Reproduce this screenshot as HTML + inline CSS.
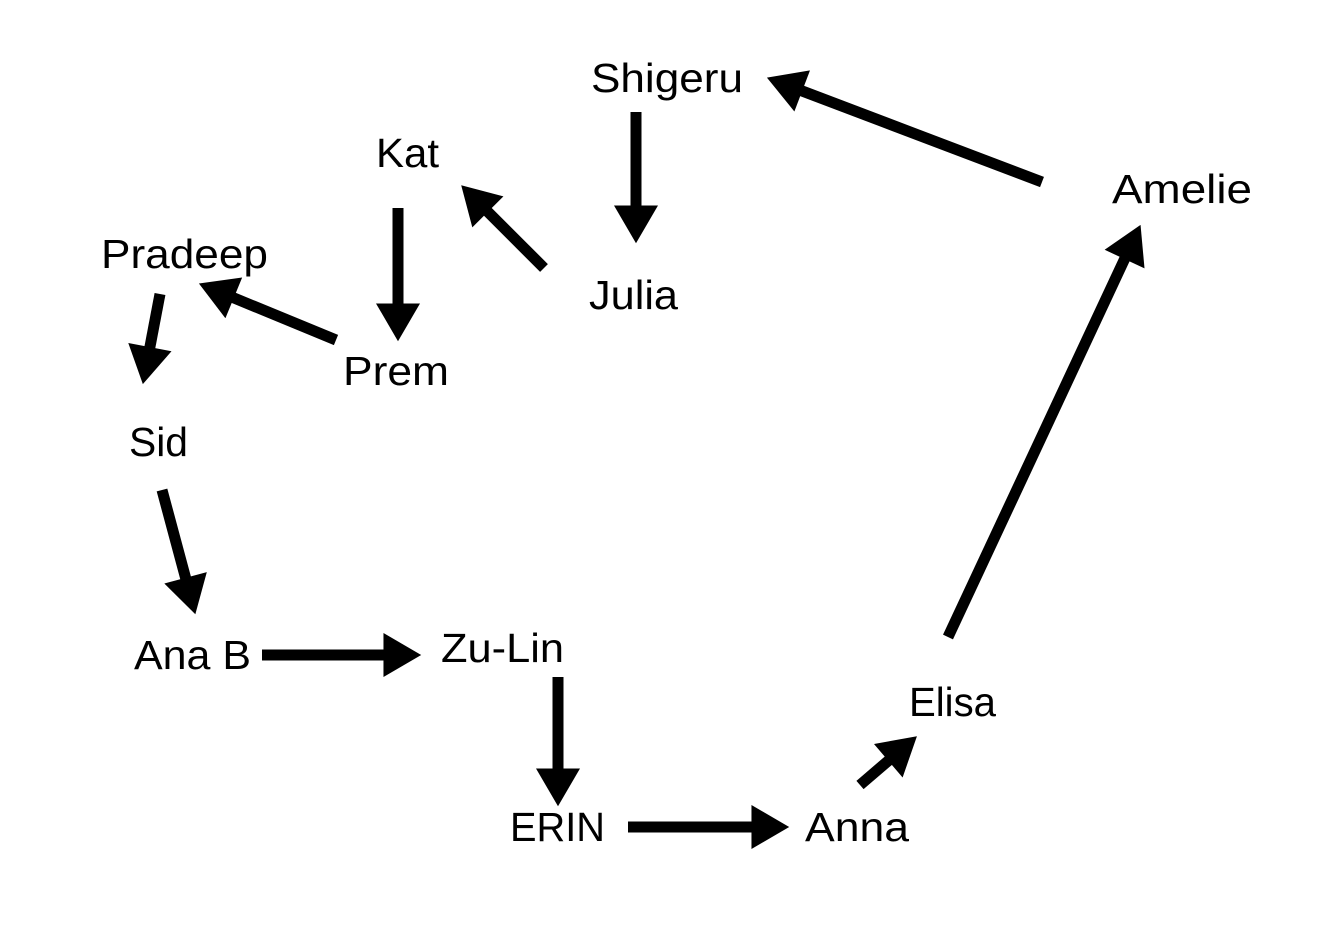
<!DOCTYPE html>
<html><head><meta charset="utf-8"><style>html,body{margin:0;padding:0;background:#fff}svg{display:block}</style></head>
<body>
<svg width="1318" height="932" viewBox="0 0 1318 932" xmlns="http://www.w3.org/2000/svg">
<defs>
<marker id="a" markerUnits="userSpaceOnUse" markerWidth="40" markerHeight="44" viewBox="0 0 36 42" refX="0.5" refY="21" orient="auto">
<path d="M0,0 L36,21 L0,42 Z" fill="#000"/>
</marker>
</defs>
<g stroke="#000" stroke-width="11" marker-end="url(#a)" fill="none">
<line x1="1042" y1="182" x2="801.7" y2="90.8"/>
<line x1="636" y1="112" x2="636" y2="206"/>
<line x1="544" y1="268" x2="487.5" y2="211.5"/>
<line x1="398" y1="208" x2="398" y2="304"/>
<line x1="336" y1="340" x2="233.3" y2="297.7"/>
<line x1="160" y1="294" x2="149.8" y2="347.6"/>
<line x1="162" y1="490" x2="185.7" y2="578.3"/>
<line x1="262" y1="655" x2="384" y2="655"/>
<line x1="558" y1="677" x2="558" y2="769"/>
<line x1="628" y1="827" x2="752" y2="827"/>
<line x1="860" y1="785" x2="888.7" y2="760.4"/>
<line x1="948" y1="637" x2="1124.8" y2="258.6"/>
</g>
<g font-family="Liberation Sans, sans-serif" font-size="41" fill="#000">
<text x="591" y="92" textLength="152" lengthAdjust="spacingAndGlyphs">Shigeru</text>
<text x="376" y="167" textLength="63" lengthAdjust="spacingAndGlyphs">Kat</text>
<text x="1112" y="203" textLength="140" lengthAdjust="spacingAndGlyphs">Amelie</text>
<text x="101" y="268" textLength="167" lengthAdjust="spacingAndGlyphs">Pradeep</text>
<text x="589" y="309" textLength="89" lengthAdjust="spacingAndGlyphs">Julia</text>
<text x="343" y="385" textLength="106" lengthAdjust="spacingAndGlyphs">Prem</text>
<text x="129" y="456" textLength="59" lengthAdjust="spacingAndGlyphs">Sid</text>
<text x="134" y="669" textLength="117" lengthAdjust="spacingAndGlyphs">Ana B</text>
<text x="441" y="662" textLength="123" lengthAdjust="spacingAndGlyphs">Zu-Lin</text>
<text x="909" y="716" textLength="87" lengthAdjust="spacingAndGlyphs">Elisa</text>
<text x="510" y="841" textLength="95" lengthAdjust="spacingAndGlyphs">ERIN</text>
<text x="805" y="841" textLength="104" lengthAdjust="spacingAndGlyphs">Anna</text>
</g>
</svg>
</body></html>
